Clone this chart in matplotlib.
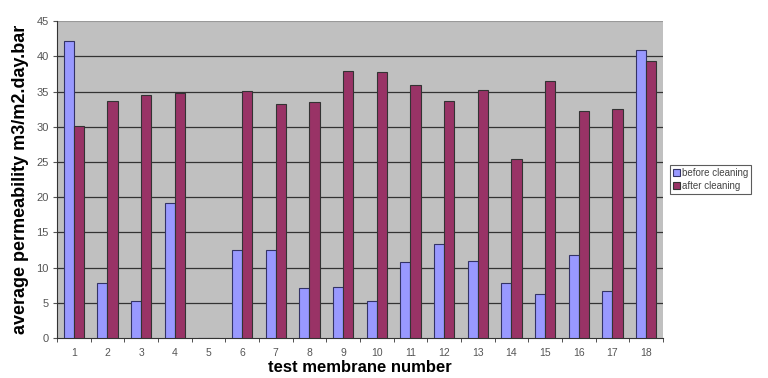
import matplotlib
matplotlib.use("Agg")
import matplotlib.pyplot as plt
import numpy as np

plt.rcParams["font.family"] = ["Liberation Sans", "DejaVu Sans"]

categories = [str(i) for i in range(1, 19)]
before = [42.2, 7.8, 5.2, 19.1, 0, 12.5, 12.5, 7.1, 7.3, 5.2, 10.8, 13.4, 10.9, 7.8, 6.3, 11.8, 6.7, 40.9]
after = [30.1, 33.6, 34.5, 34.8, 0, 35.1, 33.3, 33.5, 37.9, 37.8, 36.0, 33.6, 35.2, 25.4, 36.5, 32.3, 32.5, 39.4]

fig = plt.figure(figsize=(7.68, 3.78), dpi=100)
ax = fig.add_axes([0.0742, 0.106, 0.789, 0.838])
ax.set_facecolor("#C0C0C0")

x = np.arange(len(categories))
w = 0.3
ax.bar(x - w / 2, before, w, color="#9999FF", edgecolor="#333366", linewidth=0.8,
       label="before cleaning", zorder=3)
ax.bar(x + w / 2, after, w, color="#993366", edgecolor="#333333", linewidth=0.8,
       label="after cleaning", zorder=3)

ax.set_xlim(-0.5, len(categories) - 0.5)
ax.set_ylim(0, 45)
ax.set_yticks(range(0, 46, 5))
for yv in range(5, 45, 5):
    ax.axhline(yv, color="#333333", linewidth=0.9, zorder=1)
ax.axhline(45, color="#999999", linewidth=0.8, zorder=1)

ax.set_xticks(x)
ax.set_xticklabels(categories)
ax.set_xticks(np.arange(-0.5, len(categories), 1), minor=True)
ax.tick_params(axis="x", which="major", length=0, labelsize=7.5, colors="#555555", pad=7)
ax.tick_params(axis="x", which="minor", length=3, color="#333333")
ax.tick_params(axis="y", length=3, labelsize=8, colors="#555555", pad=3)

for s in ["top", "right"]:
    ax.spines[s].set_visible(False)
ax.spines["left"].set_color("#333333")
ax.spines["bottom"].set_color("#333333")

ax.set_xlabel("test membrane number", fontsize=12, fontweight="bold", labelpad=2)
ax.set_ylabel("average permeability m3/m2.day.bar", fontsize=13, fontweight="bold", labelpad=5)

leg = ax.legend(loc="upper left", bbox_to_anchor=(1.012, 0.545), fontsize=7,
                frameon=True, fancybox=False, handlelength=0.7, handleheight=0.7,
                handletextpad=0.2, borderpad=0.3, labelspacing=0.3, borderaxespad=0)
leg.get_frame().set_edgecolor("#333333")
leg.get_frame().set_linewidth(0.8)
for t in leg.get_texts():
    t.set_color("#444444")

fig.savefig("out.png", dpi=100)
